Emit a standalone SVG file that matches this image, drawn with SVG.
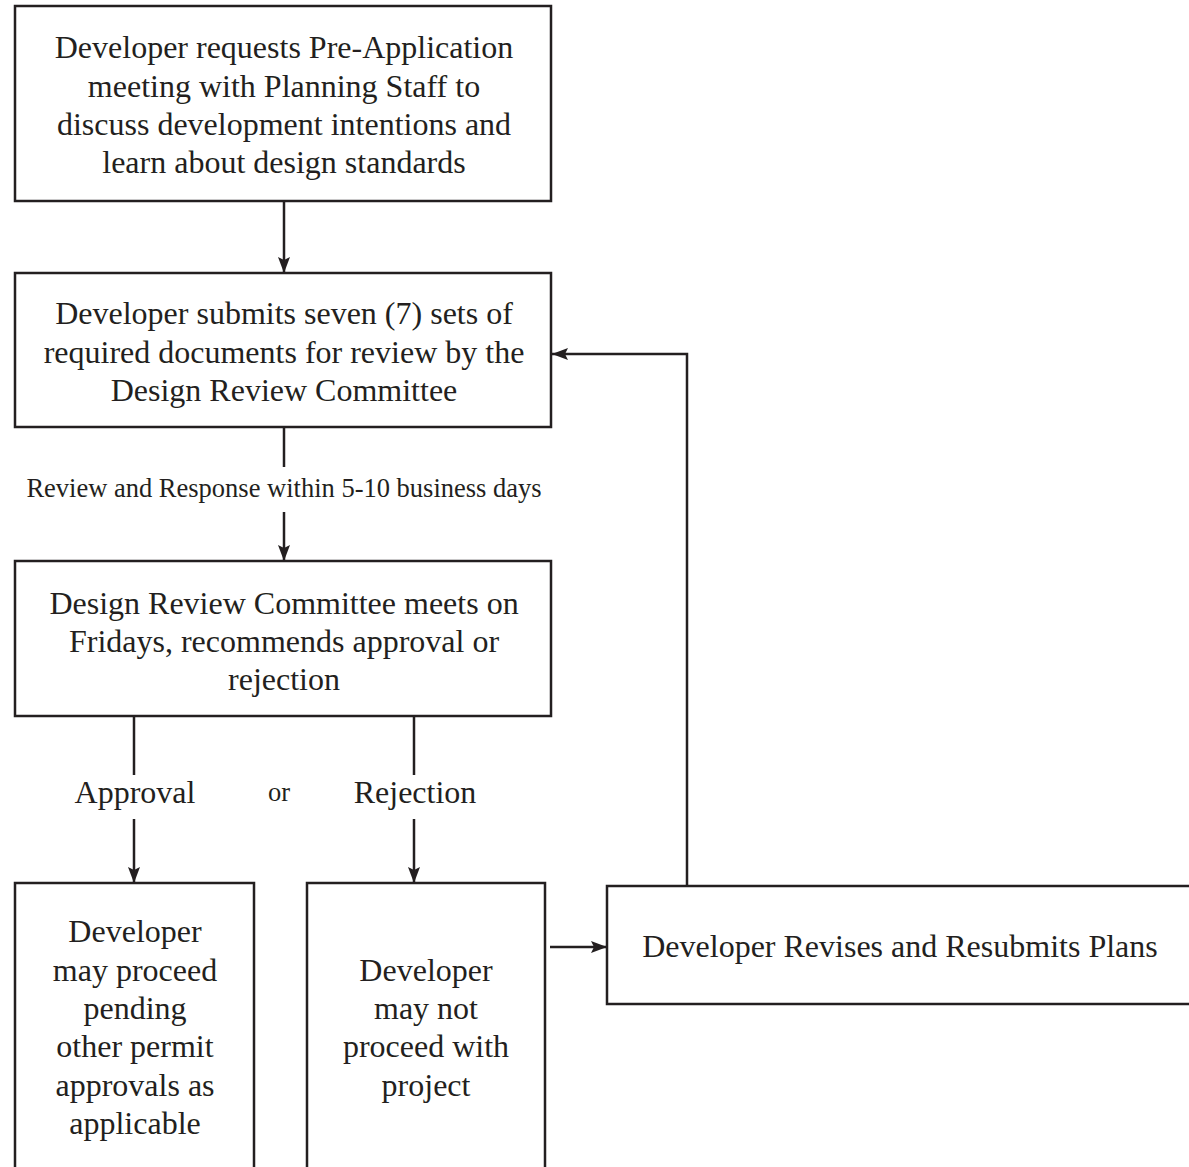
<svg xmlns="http://www.w3.org/2000/svg" width="1189" height="1167" viewBox="0 0 1189 1167">
<defs>
<style>
.box{fill:#fff;stroke:#231f20;stroke-width:2.5}
.t{font-family:"Liberation Serif","Times New Roman",serif;font-size:32px;fill:#231f20;text-anchor:middle}
.s{font-family:"Liberation Serif","Times New Roman",serif;font-size:26.5px;fill:#231f20;text-anchor:middle}
.c{fill:none;stroke:#231f20;stroke-width:2.5}
</style>
<marker id="ah" markerUnits="userSpaceOnUse" markerWidth="18" markerHeight="14" refX="16" refY="7" orient="auto">
<path d="M0,1 L16,7 L0,13 L3,7 Z" fill="#231f20"/>
</marker>
</defs>
<rect width="1189" height="1167" fill="#fff"/>
<g id="connectors">
<line class="c" x1="284" y1="201" x2="284" y2="273" marker-end="url(#ah)"/>
<line class="c" x1="284" y1="427" x2="284" y2="467"/>
<text class="s" x="284" y="497">Review and Response within 5-10 business days</text>
<line class="c" x1="284" y1="512" x2="284" y2="561" marker-end="url(#ah)"/>
<line class="c" x1="134" y1="716" x2="134" y2="775"/>
<line class="c" x1="134" y1="819" x2="134" y2="883" marker-end="url(#ah)"/>
<line class="c" x1="414" y1="716" x2="414" y2="775"/>
<line class="c" x1="414" y1="819" x2="414" y2="883" marker-end="url(#ah)"/>
<text class="t" x="135" y="803">Approval</text>
<text class="s" x="279" y="801">or</text>
<text class="t" x="415" y="803">Rejection</text>
<line class="c" x1="550" y1="947" x2="607" y2="947" marker-end="url(#ah)"/>
<polyline class="c" points="687,886 687,354 552,354" marker-end="url(#ah)"/>
</g>
<g id="n1">
<rect class="box" x="15" y="6" width="536" height="195"/>
<text class="t" x="284" y="58">Developer requests Pre-Application</text>
<text class="t" x="284" y="97">meeting with Planning Staff to</text>
<text class="t" x="284" y="135">discuss development intentions and</text>
<text class="t" x="284" y="173">learn about design standards</text>
</g>
<g id="n2">
<rect class="box" x="15" y="273" width="536" height="154"/>
<text class="t" x="284" y="324">Developer submits seven (7) sets of</text>
<text class="t" x="284" y="363">required documents for review by the</text>
<text class="t" x="284" y="401">Design Review Committee</text>
</g>
<g id="n3">
<rect class="box" x="15" y="561" width="536" height="155"/>
<text class="t" x="284" y="614">Design Review Committee meets on</text>
<text class="t" x="284" y="652">Fridays, recommends approval or</text>
<text class="t" x="284" y="690">rejection</text>
</g>
<g id="n4">
<rect class="box" x="15" y="883" width="239" height="320"/>
<text class="t" x="135" y="942">Developer</text>
<text class="t" x="135" y="981">may proceed</text>
<text class="t" x="135" y="1019">pending</text>
<text class="t" x="135" y="1057">other permit</text>
<text class="t" x="135" y="1096">approvals as</text>
<text class="t" x="135" y="1134">applicable</text>
</g>
<g id="n5">
<rect class="box" x="307" y="883" width="238" height="320"/>
<text class="t" x="426" y="981">Developer</text>
<text class="t" x="426" y="1019">may not</text>
<text class="t" x="426" y="1057">proceed with</text>
<text class="t" x="426" y="1096">project</text>
</g>
<g id="n6">
<rect class="box" x="607" y="886" width="590" height="118"/>
<text class="t" x="900" y="957">Developer Revises and Resubmits Plans</text>
</g>
</svg>
